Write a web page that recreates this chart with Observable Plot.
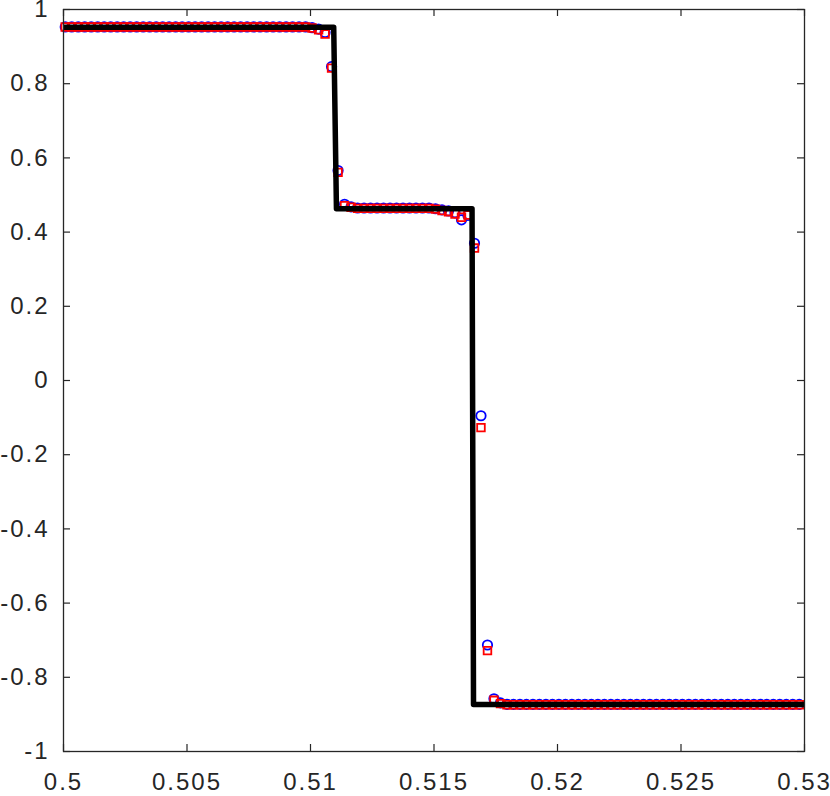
<!DOCTYPE html>
<html>
<head>
<meta charset="utf-8">
<script src="https://cdn.jsdelivr.net/npm/d3@7"></script>
<script src="https://cdn.jsdelivr.net/npm/@observablehq/plot@0.6"></script>
<style>
  html, body { margin: 0; padding: 0; background: #fff; }
  #chart { width: 830px; height: 796px; overflow: hidden; }
</style>
</head>
<body>
<div id="chart"></div>
<script>
// Grid points (cell centres)
const xGrid = [
  0.500070, 0.500333, 0.500596, 0.500859, 0.501122, 0.501385, 0.501648, 0.501911, 0.502174, 0.502437,
  0.502700, 0.502963, 0.503226, 0.503489, 0.503752, 0.504015, 0.504278, 0.504541, 0.504804, 0.505067,
  0.505330, 0.505593, 0.505856, 0.506119, 0.506382, 0.506645, 0.506908, 0.507171, 0.507434, 0.507697,
  0.507960, 0.508223, 0.508486, 0.508749, 0.509012, 0.509275, 0.509538, 0.509801, 0.510064, 0.510327,
  0.510590, 0.510853, 0.511116, 0.511379, 0.511642, 0.511905, 0.512168, 0.512431, 0.512694, 0.512957,
  0.513220, 0.513483, 0.513746, 0.514009, 0.514272, 0.514535, 0.514798, 0.515061, 0.515324, 0.515587,
  0.515850, 0.516113, 0.516376, 0.516639, 0.516902, 0.517165, 0.517428, 0.517691, 0.517954, 0.518217,
  0.518480, 0.518743, 0.519006, 0.519269, 0.519532, 0.519795, 0.520058, 0.520321, 0.520584, 0.520847,
  0.521110, 0.521373, 0.521636, 0.521899, 0.522162, 0.522425, 0.522688, 0.522951, 0.523214, 0.523477,
  0.523740, 0.524003, 0.524266, 0.524529, 0.524792, 0.525055, 0.525318, 0.525581, 0.525844, 0.526107,
  0.526370, 0.526633, 0.526896, 0.527159, 0.527422, 0.527685, 0.527948, 0.528211, 0.528474, 0.528737,
  0.529000, 0.529263, 0.529526, 0.529789
];

// Blue circles series
const blueValues = [
  0.953, 0.953, 0.953, 0.953, 0.953, 0.953, 0.953, 0.953, 0.953, 0.953,
  0.953, 0.953, 0.953, 0.953, 0.953, 0.953, 0.953, 0.953, 0.953, 0.953,
  0.953, 0.953, 0.953, 0.953, 0.953, 0.953, 0.953, 0.953, 0.953, 0.953,
  0.953, 0.953, 0.953, 0.953, 0.953, 0.953, 0.953, 0.953, 0.951, 0.947,
  0.938, 0.846, 0.566, 0.475, 0.468, 0.465, 0.465, 0.465, 0.465, 0.465,
  0.465, 0.465, 0.465, 0.465, 0.465, 0.465, 0.465, 0.463, 0.460, 0.457,
  0.452, 0.433, 0.445, 0.370, -0.095, -0.713, -0.858, -0.869, -0.873, -0.873,
  -0.873, -0.873, -0.873, -0.873, -0.873, -0.873, -0.873, -0.873, -0.873, -0.873,
  -0.873, -0.873, -0.873, -0.873, -0.873, -0.873, -0.873, -0.873, -0.873, -0.873,
  -0.873, -0.873, -0.873, -0.873, -0.873, -0.873, -0.873, -0.873, -0.873, -0.873,
  -0.873, -0.873, -0.873, -0.873, -0.873, -0.873, -0.873, -0.873, -0.873, -0.873,
  -0.873, -0.873, -0.873, -0.873
];

// Red squares series
const redValues = [
  0.953, 0.953, 0.953, 0.953, 0.953, 0.953, 0.953, 0.953, 0.953, 0.953,
  0.953, 0.953, 0.953, 0.953, 0.953, 0.953, 0.953, 0.953, 0.953, 0.953,
  0.953, 0.953, 0.953, 0.953, 0.953, 0.953, 0.953, 0.953, 0.953, 0.953,
  0.953, 0.953, 0.953, 0.953, 0.953, 0.953, 0.953, 0.953, 0.950, 0.945,
  0.934, 0.842, 0.561, 0.471, 0.467, 0.464, 0.464, 0.464, 0.464, 0.464,
  0.464, 0.464, 0.464, 0.464, 0.464, 0.464, 0.464, 0.462, 0.458, 0.455,
  0.449, 0.440, 0.446, 0.357, -0.127, -0.728, -0.862, -0.871, -0.874, -0.874,
  -0.874, -0.874, -0.874, -0.874, -0.874, -0.874, -0.874, -0.874, -0.874, -0.874,
  -0.874, -0.874, -0.874, -0.874, -0.874, -0.874, -0.874, -0.874, -0.874, -0.874,
  -0.874, -0.874, -0.874, -0.874, -0.874, -0.874, -0.874, -0.874, -0.874, -0.874,
  -0.874, -0.874, -0.874, -0.874, -0.874, -0.874, -0.874, -0.874, -0.874, -0.874,
  -0.874, -0.874, -0.874, -0.874
];

// Exact solution (black line)
const exactX = [0.5, 0.51094, 0.51105, 0.51654, 0.51660, 0.53];
const exactY = [0.952, 0.952, 0.463, 0.463, -0.873, -0.873];

// Tick values
const xTicks = [0.5, 0.505, 0.51, 0.515, 0.52, 0.525, 0.53];
const yTicks = [-1, -0.8, -0.6, -0.4, -0.2, 0, 0.2, 0.4, 0.6, 0.8, 1];

const blueData = xGrid.map((x, i) => ({x, y: blueValues[i]}));
const redData = xGrid.map((x, i) => ({x, y: redValues[i]}));
const exactData = exactX.map((x, i) => ({x, y: exactY[i]}));

const fmt = d => String(+d.toFixed(4));
const axisColor = "#262626";

const W = 830, H = 796;
const mL = 63, mR = 26, mT = 9, mB = 45;
const plotW = W - mL - mR, plotH = H - mT - mB;
const tickLen = 7;

const chart = Plot.plot({
  width: W,
  height: H,
  marginLeft: mL,
  marginRight: mR,
  marginTop: mT,
  marginBottom: mB,
  style: {
    fontFamily: "'Liberation Sans', Arial, Helvetica, sans-serif",
    fontSize: "24px",
    letterSpacing: "2px",
    color: axisColor,
    background: "#fff",
    overflow: "visible"
  },
  x: {domain: [0.5, 0.53]},
  y: {domain: [-1, 1]},
  marks: [
    Plot.dot(blueData, {x: "x", y: "y", symbol: "circle", r: 4.7, stroke: "#0000ff", strokeWidth: 1.8, fill: "none"}),
    Plot.dot(redData, {x: "x", y: "y", symbol: "square", r: 4.3, stroke: "#ff0000", strokeWidth: 1.8, fill: "none"}),
    Plot.line(exactData, {x: "x", y: "y", stroke: "#000", strokeWidth: 5.5, strokeLinejoin: "round", strokeLinecap: "butt"}),
    // inward tick marks on all four sides
    Plot.ruleX(xTicks, {x: d => d, insetTop: plotH - tickLen, stroke: axisColor, strokeWidth: 1.2}),
    Plot.ruleX(xTicks, {x: d => d, insetBottom: plotH - tickLen, stroke: axisColor, strokeWidth: 1.2}),
    Plot.ruleY(yTicks, {y: d => d, insetRight: plotW - tickLen, stroke: axisColor, strokeWidth: 1.2}),
    Plot.ruleY(yTicks, {y: d => d, insetLeft: plotW - tickLen, stroke: axisColor, strokeWidth: 1.2}),
    Plot.frame({stroke: axisColor, strokeWidth: 1.3}),
    Plot.axisX(xTicks, {anchor: "bottom", tickSize: 0, tickPadding: 21, tickFormat: fmt, fill: axisColor, label: null}),
    Plot.axisY(yTicks, {anchor: "left", tickSize: 0, tickPadding: 14, tickFormat: fmt, fill: axisColor, label: null})
  ]
});
document.getElementById("chart").appendChild(chart);
</script>
</body>
</html>
